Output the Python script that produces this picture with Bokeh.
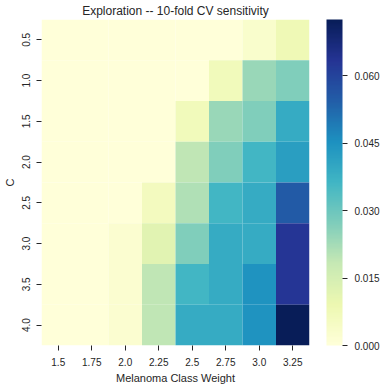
from bokeh.plotting import figure
from bokeh.models import ColumnDataSource, LinearColorMapper, ColorBar, FixedTicker, NumeralTickFormatter
from bokeh.embed import file_html
from bokeh.resources import INLINE
from bokeh.transform import transform

weights = ["1.5", "1.75", "2.0", "2.25", "2.5", "2.75", "3.0", "3.25"]
cs = ["0.5", "1.0", "1.5", "2.0", "2.5", "3.0", "3.5", "4.0"]

row_05 = [0, 0, 0, 0, 0, 0, 0.003, 0.008]
row_10 = [0, 0, 0, 0, 0, 0.007, 0.024, 0.027]
row_15 = [0, 0, 0, 0, 0.007, 0.024, 0.027, 0.039]
row_20 = [0, 0, 0, 0, 0.019, 0.027, 0.036, 0.042]
row_25 = [0, 0, 0, 0.006, 0.021, 0.036, 0.039, 0.055]
row_30 = [0, 0, 0.002, 0.012, 0.027, 0.039, 0.039, 0.063]
row_35 = [0, 0, 0.002, 0.019, 0.036, 0.039, 0.045, 0.063]
row_40 = [0, 0, 0.002, 0.019, 0.039, 0.039, 0.045, 0.0725]
rows = [row_05, row_10, row_15, row_20, row_25, row_30, row_35, row_40]

cbar_ticks = [0.0, 0.015, 0.03, 0.045, 0.06]

# YlGnBu colormap, interpolated to 256 steps
anchors = ["#ffffd9", "#edf8b1", "#c7e9b4", "#7fcdbb", "#41b6c4",
           "#1d91c0", "#225ea8", "#253494", "#081d58"]
def h2r(h):
    return tuple(int(h[i:i + 2], 16) for i in (1, 3, 5))
argb = [h2r(a) for a in anchors]
palette = []
for i in range(256):
    t = i / 255 * (len(argb) - 1)
    k = min(int(t), len(argb) - 2)
    f = t - k
    c = tuple(round(argb[k][j] + (argb[k + 1][j] - argb[k][j]) * f) for j in range(3))
    palette.append("#%02x%02x%02x" % c)

xs, ys, vs = [], [], []
for c, row in zip(cs, rows):
    for w, v in zip(weights, row):
        xs.append(w)
        ys.append(c)
        vs.append(v)
src = ColumnDataSource(dict(x=xs, y=ys, v=vs))

vmax = max(max(r) for r in rows)
mapper = LinearColorMapper(palette=palette, low=0, high=vmax)

FONT = "Liberation Sans"
TXT = "#262626"

p = figure(x_range=weights, y_range=list(reversed(cs)),
           frame_width=268, frame_height=326,
           output_backend="svg", toolbar_location=None,
           title="Exploration -- 10-fold CV sensitivity",
           min_border_left=35, min_border_top=16, min_border_right=5, min_border_bottom=5)
p.rect(x="x", y="y", width=1, height=1, source=src,
       fill_color=transform("v", mapper), line_color=None)

p.title.align = "center"
p.title.text_font = FONT
p.title.text_font_size = "12px"
p.title.text_font_style = "normal"
p.title.text_color = TXT
p.title.standoff = 3

p.xgrid.grid_line_color = None
p.ygrid.grid_line_color = None
p.outline_line_color = None

for ax in (p.xaxis[0], p.yaxis[0]):
    ax.axis_line_color = None
    ax.major_tick_line_color = TXT
    ax.major_tick_out = 5
    ax.major_tick_in = 0
    ax.minor_tick_line_color = None
    ax.major_label_text_font = FONT
    ax.major_label_text_font_size = "10px"
    ax.major_label_text_color = TXT
    ax.axis_label_text_font = FONT
    ax.axis_label_text_font_size = "11px"
    ax.axis_label_text_font_style = "normal"
    ax.axis_label_text_color = TXT
    ax.major_label_standoff = 7
    ax.axis_label_standoff = 3

p.xaxis.axis_label = "Melanoma Class Weight"
p.yaxis.axis_label = "C"
p.yaxis.major_label_orientation = "vertical"

cb = ColorBar(color_mapper=mapper, width=16, height=326,
              ticker=FixedTicker(ticks=cbar_ticks),
              formatter=NumeralTickFormatter(format="0.000"),
              major_tick_line_color=TXT, major_tick_out=5, major_tick_in=0,
              minor_tick_line_color=None, bar_line_color=None,
              major_label_text_font=FONT, major_label_text_font_size="10px",
              major_label_text_color=TXT, label_standoff=7,
              padding=0, location=(17, 0), border_line_color=None,
              background_fill_color=None)
p.add_layout(cb, "right")

open("out.html", "w").write(file_html(p, INLINE))
